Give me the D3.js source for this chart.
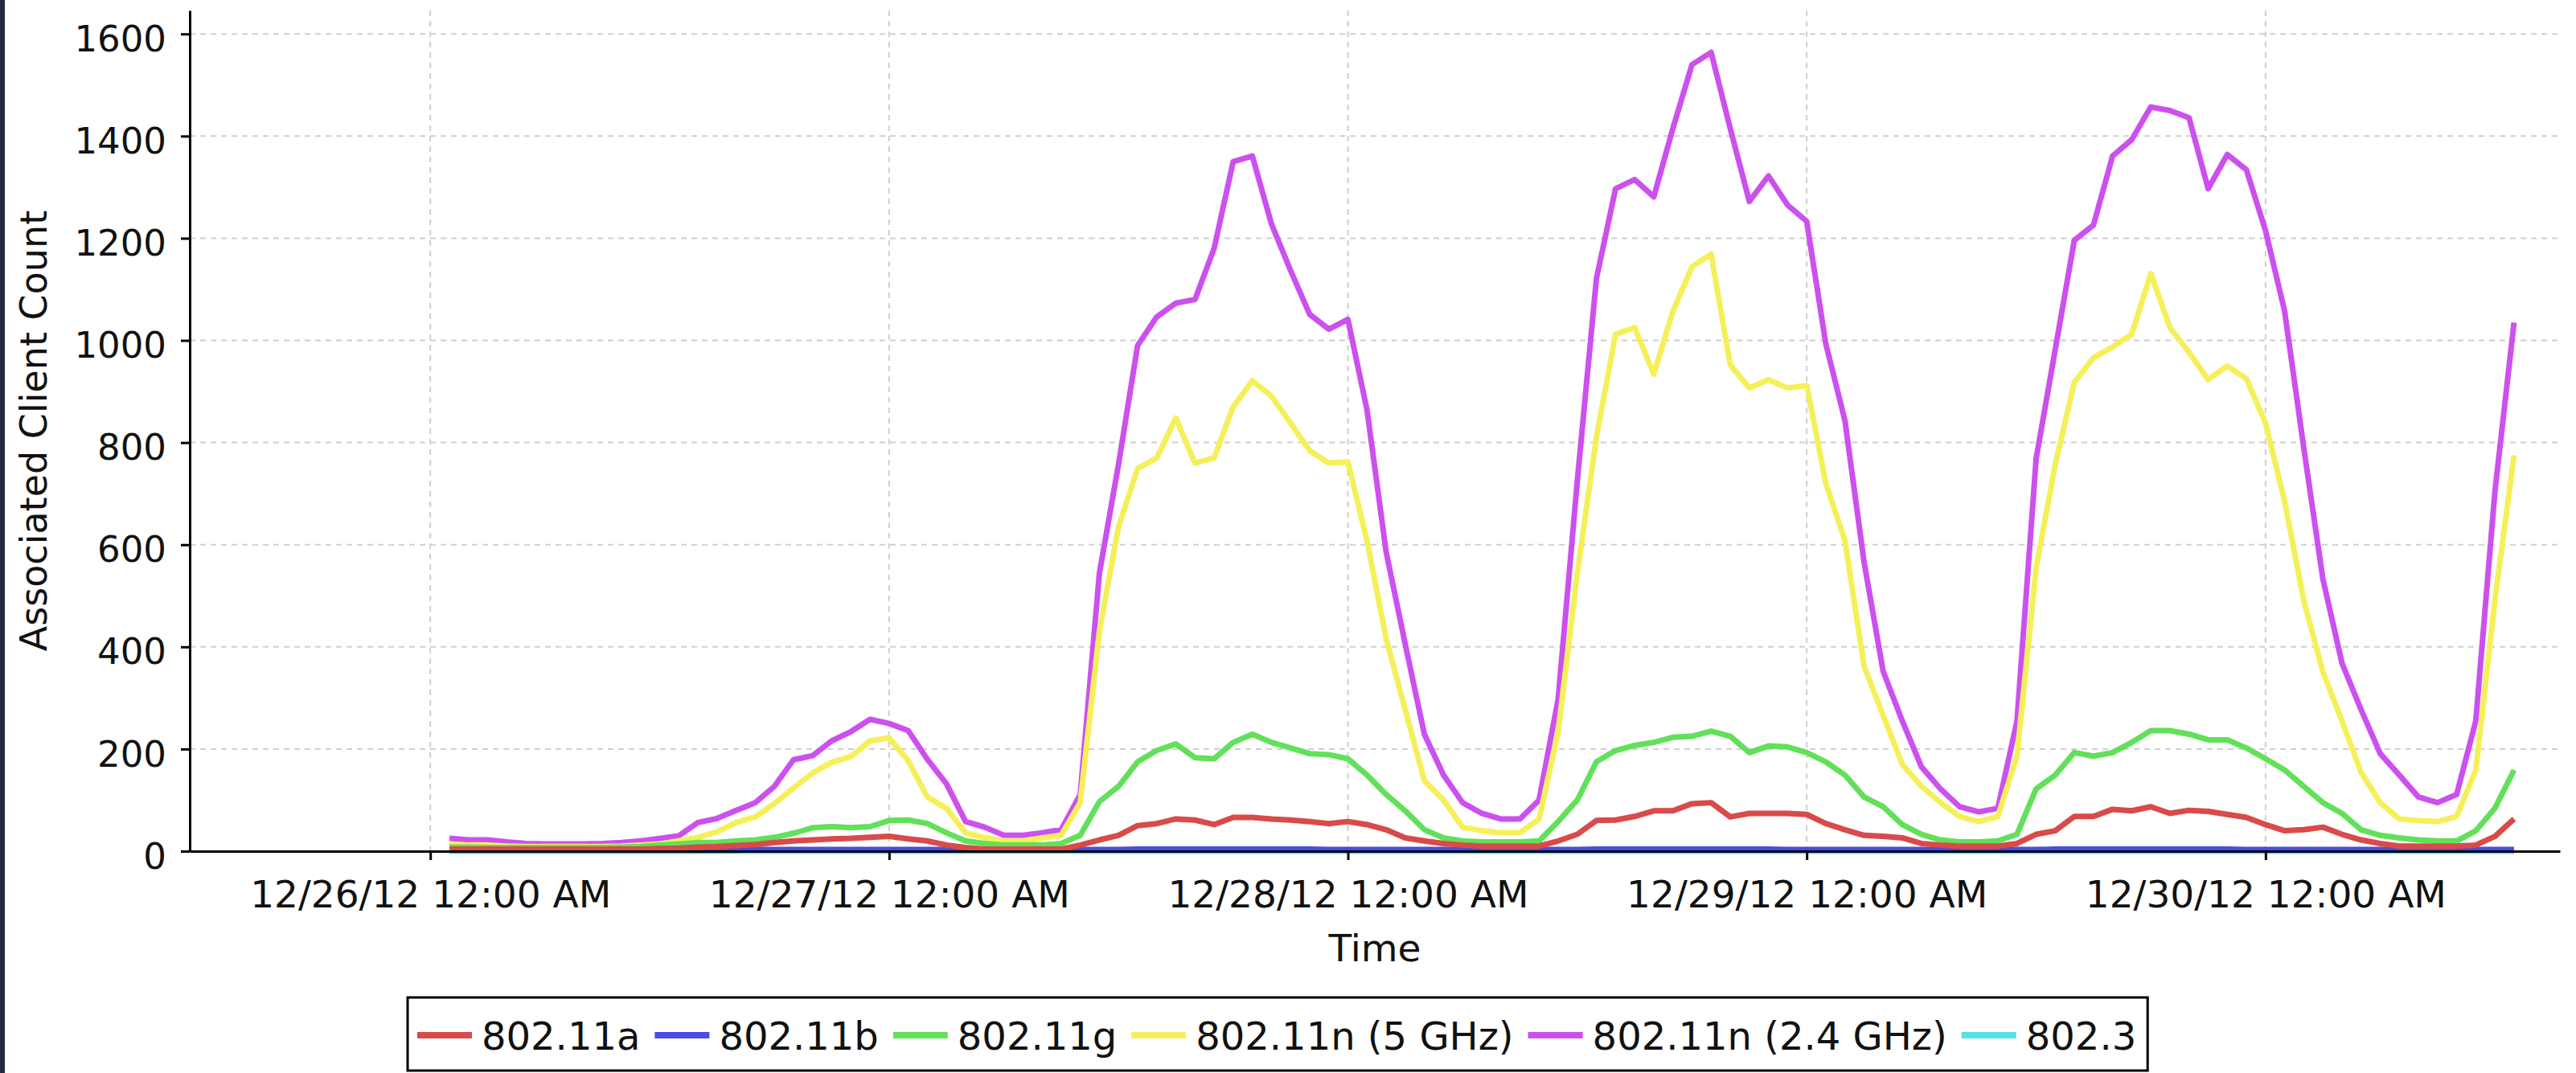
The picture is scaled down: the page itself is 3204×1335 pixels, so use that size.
<!DOCTYPE html>
<html><head><meta charset="utf-8">
<script src="https://cdn.jsdelivr.net/npm/d3@7"></script>
<style>
body{margin:0;background:#fff}
svg{display:block}
text{font-family:"DejaVu Sans",sans-serif;fill:#111}
</style>
</head><body>
<svg id="chart" width="3204" height="1335"></svg>
<script>
// ---------- data ----------
const seriesNames = ["802.11a", "802.11b", "802.11g", "802.11n (5 GHz)", "802.11n (2.4 GHz)", "802.3"];
const seriesColors = ["#d94a4a", "#4a4ae6", "#62e05a", "#f5f05a", "#cc50ee", "#55e2e6"];
const firstSample = "2012-12-26 01:00";   // hourly samples
const xDomain = ["2012-12-25 11:25", "2012-12-30 15:24"];
const xTickDays = ["2012-12-26 00:00", "2012-12-27 00:00", "2012-12-28 00:00", "2012-12-29 00:00", "2012-12-30 00:00"];
const yTicks = [0, 200, 400, 600, 800, 1000, 1200, 1400, 1600];
const yMax = 1646;

const a80211a = [
  4,4,4,4,4,4,4,4,4,4,4,5,
  6,8,9,11,13,17,20,22,24,25,27,29,
  24,20,12,7,4,4,4,4,4,12,22,31,
  50,54,63,61,52,66,66,63,61,58,54,58,
  52,42,26,20,15,12,10,10,10,10,20,33,
  60,61,68,79,79,93,95,67,74,74,74,72,
  54,42,31,29,26,15,12,10,10,10,15,33,
  40,68,68,82,79,87,74,80,78,72,66,52,
  40,42,47,33,22,15,10,10,10,10,12,29,
  63];
const a80211b = [
  2,2,2,2,2,2,2,2,2,2,2,2,
  2,2,2,2,3,3,3,3,3,3,3,3,
  3,3,3,3,3,3,3,3,3,3,3,3,
  4,4,4,4,4,4,4,4,4,4,3,3,
  3,3,3,3,3,3,3,3,3,3,3,3,
  4,4,4,4,4,4,4,4,4,4,3,3,
  3,3,3,3,3,3,3,3,3,3,3,3,
  4,4,4,4,4,4,4,4,4,4,3,3,
  3,3,3,3,3,3,3,3,3,3,3,3,
  3];
const a80211g = [
  8,8,7,7,7,7,7,7,7,8,9,12,
  14,17,17,20,22,27,35,46,48,46,48,60,
  61,54,36,20,15,12,12,12,15,31,97,127,
  175,197,210,183,181,213,229,213,202,191,189,181,
  149,111,79,42,26,20,18,18,18,20,58,100,
  175,197,207,213,223,225,235,225,193,206,204,193,
  175,149,106,87,52,33,22,18,18,20,33,122,
  149,193,186,193,213,236,236,229,218,218,202,181,
  159,127,95,74,42,31,26,22,20,20,40,84,
  159];
const a80211n5 = [
  14,12,12,10,9,9,9,9,9,10,12,14,
  20,27,38,56,67,93,124,153,174,185,216,222,
  177,106,84,36,26,20,20,26,31,95,430,635,
  749,770,848,760,770,870,921,891,838,784,760,762,
  608,416,277,138,100,47,40,36,36,63,234,544,
  811,1012,1025,934,1057,1144,1169,952,907,923,907,912,
  720,608,362,266,170,127,95,68,58,68,186,554,
  757,918,966,987,1012,1131,1025,977,923,950,925,838,
  685,491,351,255,154,95,63,60,58,68,159,491,
  775];
const a80211n24 = [
  25,22,22,18,15,14,14,14,15,17,20,25,
  30,56,64,80,95,127,179,187,216,234,258,250,
  236,180,132,58,47,31,31,36,42,111,544,757,
  990,1046,1073,1080,1180,1350,1361,1228,1137,1051,1022,1041,
  864,586,405,229,149,95,74,63,63,100,298,725,
  1121,1297,1315,1281,1415,1540,1564,1415,1272,1322,1265,1233,
  993,843,566,352,255,165,122,87,77,84,255,768,
  982,1196,1226,1361,1393,1457,1450,1436,1297,1364,1334,1215,
  1057,790,533,368,277,191,149,106,95,111,255,704,
  1035];
const a8023 = [
  0,0,0,0,0,0,0,0,0,0,0,0,
  0,0,0,0,0,0,0,0,0,0,0,0,
  0,0,0,0,0,0,0,0,0,0,0,0,
  0,0,0,0,0,0,0,0,0,0,0,0,
  0,0,0,0,0,0,0,0,0,0,0,0,
  0,0,0,0,0,0,0,0,0,0,0,0,
  0,0,0,0,0,0,0,0,0,0,0,0,
  0,0,0,0,0,0,0,0,0,0,0,0,
  0,0,0,0,0,0,0,0,0,0,0,0,
  0];
const seriesValues = [a80211a, a80211b, a80211g, a80211n5, a80211n24, a8023];

// ---------- chart ----------
const parse = d3.timeParse("%Y-%m-%d %H:%M");
const t0 = parse(firstSample);
const times = a80211a.map((_, i) => d3.timeHour.offset(t0, i));

const svg = d3.select("#chart");
const W = 3204, H = 1335;
const plot = {left: 236, right: 3184, top: 13, bottom: 1059};

svg.append("rect").attr("width", W).attr("height", H).attr("fill", "#fff");
svg.append("rect").attr("x", 0).attr("y", 0).attr("width", 6).attr("height", H).attr("fill", "#252a44");

const x = d3.scaleTime().domain(xDomain.map(parse)).range([plot.left, plot.right]);
const y = d3.scaleLinear().domain([0, yMax]).range([plot.bottom, plot.top]);
const xTicks = xTickDays.map(parse);

// grid
const grid = svg.append("g").attr("stroke", "#cfcfcf").attr("stroke-width", 2).attr("stroke-dasharray", "7,6");
grid.selectAll("line.h").data(yTicks).join("line").attr("class", "h")
  .attr("x1", plot.left).attr("x2", plot.right).attr("y1", d => y(d)).attr("y2", d => y(d));
grid.selectAll("line.v").data(xTicks).join("line").attr("class", "v")
  .attr("x1", d => x(d)).attr("x2", d => x(d)).attr("y1", plot.top).attr("y2", plot.bottom);

// series (first series drawn last, on top)
const line = d3.line().x((d, i) => x(times[i])).y(d => y(d));
const order = d3.range(seriesNames.length).reverse();
const lines = svg.append("g").attr("fill", "none").attr("stroke-width", 7)
  .attr("stroke-linejoin", "round").attr("stroke-linecap", "butt");
order.forEach(k => {
  lines.append("path").attr("d", line(seriesValues[k])).attr("stroke", seriesColors[k]);
});

// axes
const yAxis = d3.axisLeft(y).tickValues(yTicks).tickSize(11).tickSizeOuter(0).tickPadding(18).tickFormat(d3.format("d"));
const gy = svg.append("g").attr("transform", `translate(${plot.left},0)`).call(yAxis);
gy.select(".domain").attr("stroke", "#000").attr("stroke-width", 3);
gy.selectAll(".tick line").attr("stroke", "#000").attr("stroke-width", 3);
gy.selectAll(".tick text").attr("font-size", 45).attr("font-family", "DejaVu Sans").attr("dy", "0.47em").attr("fill", "#111");

const xAxis = d3.axisBottom(x).tickValues(xTicks).tickSize(11).tickSizeOuter(0).tickFormat(d3.timeFormat("%m/%d/%y %I:%M %p"));
const gx = svg.append("g").attr("transform", `translate(0,${plot.bottom})`).call(xAxis);
gx.select(".domain").attr("stroke", "#000").attr("stroke-width", 3);
gx.selectAll(".tick line").attr("stroke", "#000").attr("stroke-width", 3);
gx.selectAll(".tick text").attr("font-size", 47).attr("font-family", "DejaVu Sans").attr("y", 70).attr("dy", 0).attr("fill", "#111");

// axis titles
svg.append("text").text("Time").attr("x", (plot.left + plot.right) / 2).attr("y", 1196)
  .attr("text-anchor", "middle").attr("font-size", 47);
svg.append("text").text("Associated Client Count")
  .attr("transform", `translate(58,${(plot.top + plot.bottom) / 2}) rotate(-90)`)
  .attr("text-anchor", "middle").attr("font-size", 46);

// legend
const lg = svg.append("g");
const box = lg.append("rect").attr("fill", "#fff").attr("stroke", "#000").attr("stroke-width", 3);
const lgLeft = 507, lgTop = 1241, lgBottom = 1332, lgMid = 1288;
let cx = lgLeft + 12;
seriesNames.forEach((name, k) => {
  lg.append("line").attr("x1", cx).attr("x2", cx + 68).attr("y1", lgMid).attr("y2", lgMid)
    .attr("stroke", seriesColors[k]).attr("stroke-width", 8);
  const t = lg.append("text").text(name).attr("x", cx + 80).attr("y", 1306).attr("font-size", 48);
  cx = cx + 80 + t.node().getComputedTextLength() + 18;
});
box.attr("x", lgLeft).attr("y", lgTop).attr("width", cx - 4 - lgLeft).attr("height", lgBottom - lgTop);
</script>
</body></html>
